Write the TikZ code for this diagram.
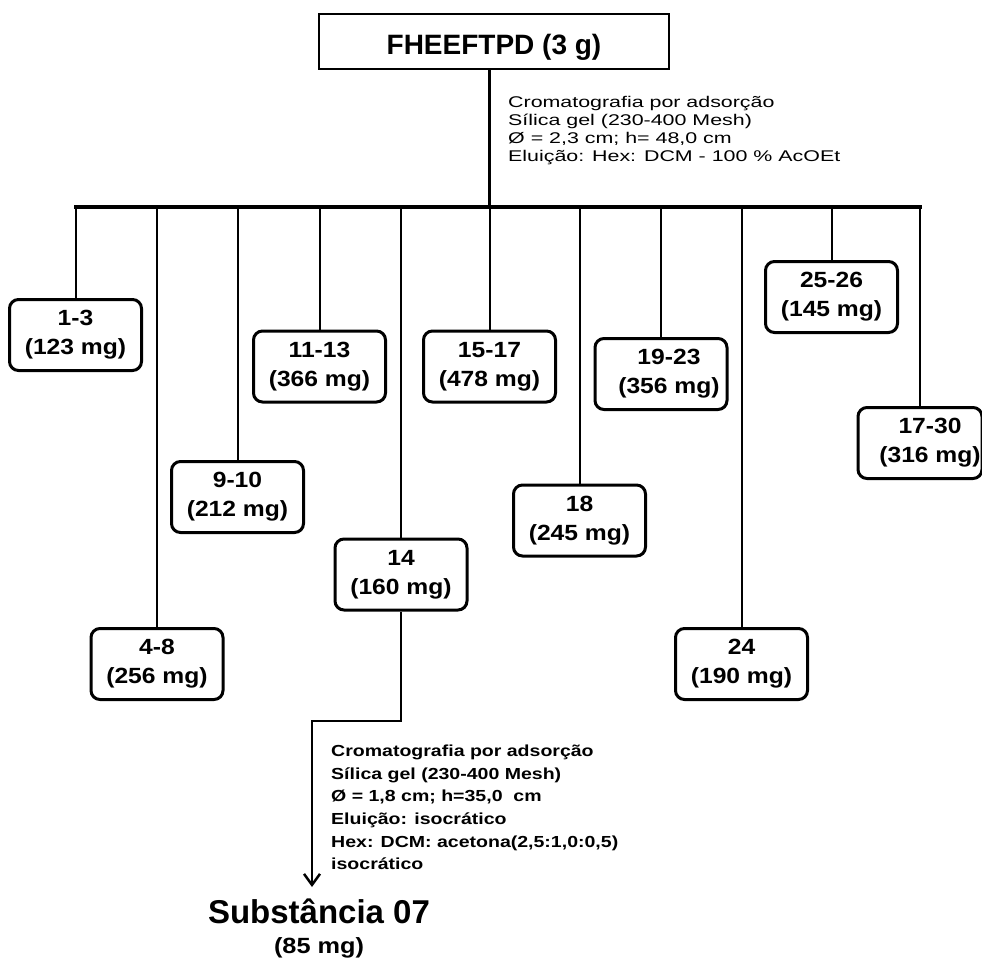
\documentclass[tikz,border=0pt]{standalone}
\usepackage{fontspec}
\setmainfont{Liberation Sans}
\usepackage{graphicx}
\usetikzlibrary{arrows.meta}
\newcommand{\bx}[1]{\scalebox{1.12}[1]{#1}}
\newcommand{\ta}[1]{\scalebox{1.38}[1]{#1}}
\newcommand{\tb}[1]{\scalebox{1.22}[1]{#1}}
\begin{document}
\begin{tikzpicture}[x=1pt,y=-1pt,
  frac/.style={draw, line width=3pt, rounded corners=9pt, minimum width=132pt, minimum height=71pt, inner sep=0pt, align=center, font=\bfseries\fontsize{22}{29}\selectfont},
  drop/.style={line width=2pt},
  barline/.style={line width=3.5pt, line cap=rect},
  annA/.style={anchor=base west, inner sep=0pt, font=\fontsize{15.5}{18}\selectfont},
  annB/.style={anchor=base west, inner sep=0pt, font=\bfseries\fontsize{16}{22}\selectfont},
  ]
\useasboundingbox (0,0) rectangle (982,958);

\node[draw, line width=2.5pt, minimum width=350pt, minimum height=55pt, inner sep=0pt, text height=30pt, text depth=3pt, font=\bfseries\fontsize{28}{34}\selectfont] (top) at (494,41.5) {FHEEFTPD (3 g)};

\node[frac] (f13) at (75.5,335) {\bx{1-3}\\\bx{(123 mg)}};
\node[frac] (f48) at (157,664) {\bx{4-8}\\\bx{(256 mg)}};
\node[frac] (f910) at (237.5,497) {\bx{9-10}\\\bx{(212 mg)}};
\node[frac] (f1113) at (319.5,366.5) {\bx{11-13}\\\bx{(366 mg)}};
\node[frac] (f14) at (401,574.5) {\bx{14}\\\bx{(160 mg)}};
\node[frac] (f1517) at (489.5,366.5) {\bx{15-17}\\\bx{(478 mg)}};
\node[frac] (f18) at (579.5,520.5) {\bx{18}\\\bx{(245 mg)}};
\node[frac] (f1923) at (661,374) {\hspace*{16pt}\bx{19-23}\\\hspace*{16pt}\bx{(356 mg)}};
\node[frac] (f24) at (741.5,664) {\bx{24}\\\bx{(190 mg)}};
\node[frac] (f2526) at (831.5,297) {\bx{25-26}\\\bx{(145 mg)}};
\node[frac, minimum width=124pt] (f1730) at (920,443) {\hspace*{20pt}\bx{17-30}\\\hspace*{20pt}\bx{(316 mg)}};

\coordinate (barY) at (0,207);
\draw[barline] (f13.north |- barY) -- (f1730.north |- barY);
\foreach \n in {f13,f48,f910,f1113,f14,f1517,f18,f1923,f24,f2526,f1730}
  \draw[drop] (\n.north) -- (\n.north |- barY);
\draw[line width=2.5pt] (top.south -| f1517.north) -- (f1517.north |- barY);

\node[annA] (a1) at (508,107) {\ta{Cromatografia por adsorção}};
\node[annA] (a2) at (508,125) {\ta{Sílica gel (230-400 Mesh)}};
\node[annA] (a3) at (508,143) {\ta{Ø = 2,3 cm; h= 48,0 cm}};
\node[annA] (a4) at (508,161) {\ta{Eluição: Hex: DCM - 100 \% AcOEt}};

\coordinate (elb) at (312,721);
\coordinate (arrEnd) at (312,887);
\draw[line width=2.5pt, -{Straight Barb[length=11pt,width=16pt,line width=2.5pt]}] (f14.south) -- (f14.south |- elb) -- (elb) -- (arrEnd);

\node[annB] (b1) at (331,756) {\tb{Cromatografia por adsorção}};
\node[annB] (b2) at (331,779) {\tb{Sílica gel (230-400 Mesh)}};
\node[annB] (b3) at (331,801) {\tb{Ø = 1,8 cm; h=35,0\ \ cm}};
\node[annB] (b4) at (331,824) {\tb{Eluição: isocrático}};
\node[annB] (b5) at (331,847) {\tb{Hex: DCM: acetona(2,5:1,0:0,5)}};
\node[annB] (b6) at (331,869) {\tb{isocrático}};

\node[anchor=base, inner sep=0pt, font=\bfseries\fontsize{33}{40}\selectfont] (sub) at (319,923) {Substância 07};
\node[anchor=base, inner sep=0pt, font=\bfseries\fontsize{22}{26}\selectfont] (mass) at (319,953) {\scalebox{1.15}[1]{(85 mg)}};
\end{tikzpicture}
\end{document}
